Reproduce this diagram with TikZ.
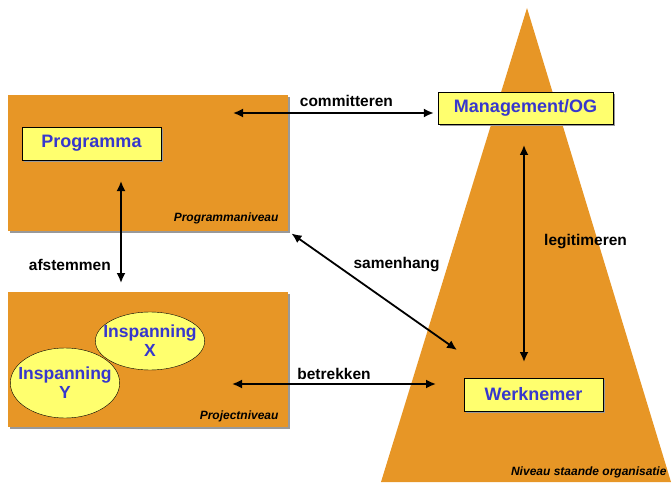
\documentclass[tikz,border=0pt]{standalone}
\usepackage{fontspec}
\setmainfont{Liberation Sans}
\usetikzlibrary{arrows.meta,shapes.geometric,shadows,positioning}
\definecolor{oranje}{RGB}{231,150,38}
\definecolor{geel}{RGB}{255,255,110}
\definecolor{blauw}{RGB}{55,55,205}
\begin{document}
\begin{tikzpicture}[x = 1pt, y = -1pt,
    schaduw/.style = {drop shadow = {shadow xshift = 2pt, shadow yshift = -2pt, fill = black!40, opacity = 1}},
    niveau/.style = {fill = oranje, minimum width = 280, minimum height = 136, inner sep = 0, schaduw},
    blok/.style = {draw, thin, fill = geel, text = blauw, inner sep = 0, schaduw,
        font = \fontsize{18}{20}\selectfont\bfseries},
    ovaal/.style = {ellipse, draw, thin, fill = geel, text = blauw, inner xsep = -8pt, inner ysep = 0pt, align = center,
        font = \fontsize{17.5}{19}\selectfont\bfseries},
    tekst/.style = {font = \fontsize{15.5}{17}\selectfont\bfseries},
    klein/.style = {font = \fontsize{12}{14}\selectfont\bfseries\itshape},
    pijl/.style = {{Latex[length = 10pt, width = 9pt]}-{Latex[length = 10pt, width = 9pt]}, line width = 1.8pt}]
    \useasboundingbox (0,0) rectangle (672,484);
    % piramide
    \fill[oranje] (527,8) -- (671,482) -- (381,482) -- cycle;
    \node[klein, anchor = east] (org) at (670,472) {Niveau staande organisatie};
    % niveaus
    \node[niveau] (prognv) at (148,163) {};
    \node[niveau, minimum height = 135] (projnv) at (148,359.5) {};
    \node[klein, anchor = east] (prognvl) at (282,218) {Programmaniveau};
    \node[klein, anchor = east] (projnvl) at (282,416) {Projectniveau};
    % blokken
    \node[blok, minimum width = 139, minimum height = 33] (prog) at (91.5,143.5) {Programma};
    \node[blok, minimum width = 175, minimum height = 32] (mgmt) at (525.5,108) {Management/OG};
    \node[blok, minimum width = 139, minimum height = 33] (werk) at (533.5,394.5) {Werknemer};
    \node[ovaal, minimum width = 107, minimum height = 58] (insx) at (150,341) {Inspanning\\X};
    \node[ovaal, minimum width = 106, minimum height = 70] (insy) at (65,383) {Inspanning\\Y};
    % eindpunten
    \coordinate (c1) at (233,113);
    \coordinate (c2) at (121,181);
    \coordinate (c3) at (121,283);
    \coordinate (c4) at (457,350);
    \coordinate (c5) at (232,384);
    \coordinate (c6) at (436,384);
    \coordinate (c7) at (524,145);
    \coordinate (c8) at (524,362);
    % pijlen
    \draw[pijl, shorten > = 4pt] (c1) -- (c1 -| mgmt.west) node[tekst, midway, above = 2pt, xshift = 11pt] (l1) {committeren};
    \draw[pijl] (c2) -- (c3) node[tekst, pos = 0.82, left = 6pt] (l2) {afstemmen};
    \draw[pijl, shorten < = 4pt] (prognv.south east) -- (c4) node[tekst, midway, xshift = 24pt, yshift = 26pt] (l3) {samenhang};
    \draw[pijl] (c5) -- (c6) node[tekst, midway, above = 0pt] (l4) {betrekken};
    \draw[pijl] (c7) -- (c8) node[tekst, midway, right = 16pt, yshift = 12pt] (l5) {legitimeren};
\end{tikzpicture}
\end{document}
